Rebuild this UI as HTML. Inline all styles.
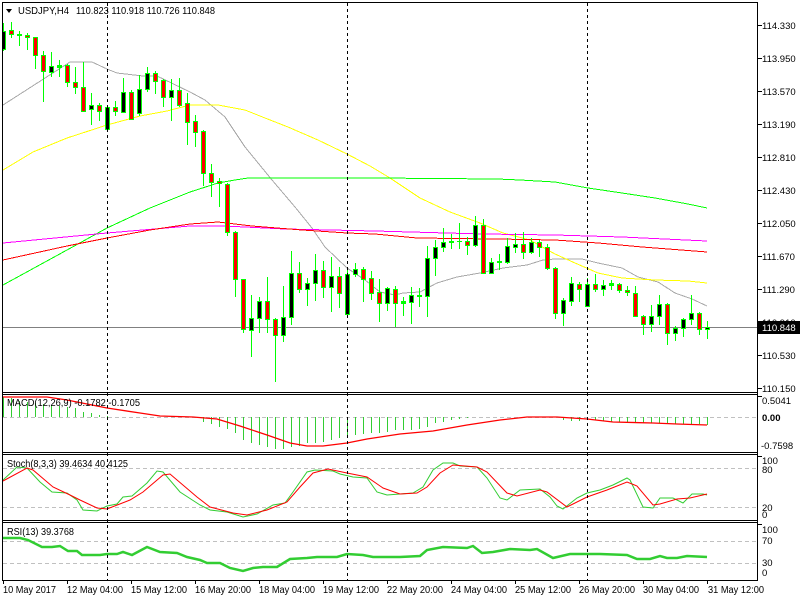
<!DOCTYPE html>
<html><head><meta charset="utf-8"><style>
html,body{margin:0;padding:0;background:#fff;}
svg{display:block;}
text{font-family:"Liberation Sans",sans-serif;fill:#000;}
</style></head><body>
<svg width="800" height="600" viewBox="0 0 800 600" xmlns="http://www.w3.org/2000/svg">
<rect width="800" height="600" fill="#fff"/>
<defs>
<clipPath id="cm"><rect x="3" y="3" width="754" height="389"/></clipPath>
<clipPath id="c1"><rect x="3" y="395" width="754" height="57"/></clipPath>
<clipPath id="c2"><rect x="3" y="455" width="754" height="65"/></clipPath>
<clipPath id="c3"><rect x="3" y="523" width="754" height="57"/></clipPath>
</defs>

<!-- level dashed lines -->
<g stroke="#c0c0c0" stroke-width="1" stroke-dasharray="4,3" shape-rendering="crispEdges">
<line x1="3" y1="417.5" x2="757" y2="417.5"/>
<line x1="3" y1="468.5" x2="757" y2="468.5"/>
<line x1="3" y1="507.5" x2="757" y2="507.5"/>
<line x1="3" y1="541.5" x2="757" y2="541.5"/>
<line x1="3" y1="563.5" x2="757" y2="563.5"/>
</g>

<!-- current price line -->
<rect x="3" y="327" width="754" height="1" fill="#808080"/>

<!-- main chart -->
<g clip-path="url(#cm)">
<g fill="none" stroke-width="1" shape-rendering="crispEdges">
<polyline stroke="#a9a9a9" points="3,105 70,62 92,62 107,69 117,73 143,76 157,76 190,92 205,100 225,117 245,147 272,180 295,207 312,228 325,247 347,268 365,280 375,288 380,292 395,295 403,293 420,292 437,283 457,277 480,273 503,268 527,265 543,260 555,259 582,259 598,263 622,268 638,277 658,282 675,293 692,299 707,306"/>
<polyline stroke="#ffff00" points="3,170 33,152 67,138 107,125 140,116 167,111 190,105 218,105 245,110 265,118 288,127 318,140 347,154 370,166 390,178 420,198 450,212 480,223 503,233 530,240 555,254 575,263 598,273 622,278 655,280 688,281 707,283"/>
<polyline stroke="#00ff00" points="3,285 67,250 107,228 150,208 190,192 218,183 235,180 248,178 375,178 497,179 520,180 555,182 588,188 622,193 655,198 688,204 707,208"/>
<polyline stroke="#ff00ff" points="3,243 107,233 190,226 225,226 285,229 375,231 483,234 555,235 622,237 707,241"/>
<polyline stroke="#ff0000" points="3,260 67,246 107,238 150,230 190,224 218,222 252,226 302,230 347,233 375,234 417,238 497,239 555,240 598,243 642,247 707,252"/>
</g>
<path fill="#00ff00" shape-rendering="crispEdges" d="M3 23h1v28h-1zM11 22h1v16h-1zM19 31h1v15h-1zM27 33h1v17h-1zM35 37h1v32h-1zM43 51h1v51h-1zM51 52h1v25h-1zM59 60h1v17h-1zM67 64h1v23h-1zM75 67h1v27h-1zM83 62h1v50h-1zM91 93h1v32h-1zM99 103h1v18h-1zM107 107h1v25h-1zM115 101h1v15h-1zM123 78h1v35h-1zM131 90h1v30h-1zM139 75h1v41h-1zM147 67h1v25h-1zM155 71h1v23h-1zM163 79h1v28h-1zM171 79h1v42h-1zM179 78h1v29h-1zM187 93h1v52h-1zM195 115h1v32h-1zM203 130h1v56h-1zM211 164h1v33h-1zM219 178h1v29h-1zM227 183h1v53h-1zM235 231h1v66h-1zM243 279h1v54h-1zM251 295h1v62h-1zM259 297h1v36h-1zM267 277h1v56h-1zM275 318h1v64h-1zM283 286h1v56h-1zM291 251h1v74h-1zM299 262h1v31h-1zM307 278h1v28h-1zM315 254h1v47h-1zM323 261h1v37h-1zM331 257h1v55h-1zM339 267h1v41h-1zM347 268h1v47h-1zM355 263h1v14h-1zM363 267h1v35h-1zM371 271h1v29h-1zM379 279h1v43h-1zM387 287h1v24h-1zM395 286h1v41h-1zM403 297h1v19h-1zM411 287h1v37h-1zM419 288h1v19h-1zM427 246h1v71h-1zM435 240h1v36h-1zM443 228h1v24h-1zM451 234h1v15h-1zM459 223h1v26h-1zM467 237h1v18h-1zM475 216h1v31h-1zM483 219h1v55h-1zM491 258h1v15h-1zM499 254h1v16h-1zM507 238h1v26h-1zM515 233h1v20h-1zM523 232h1v27h-1zM531 238h1v16h-1zM539 240h1v17h-1zM547 244h1v26h-1zM555 267h1v52h-1zM563 298h1v28h-1zM571 277h1v29h-1zM579 282h1v20h-1zM587 278h1v28h-1zM595 274h1v18h-1zM603 280h1v16h-1zM611 280h1v10h-1zM619 283h1v10h-1zM627 286h1v10h-1zM635 286h1v31h-1zM643 315h1v20h-1zM651 305h1v27h-1zM659 295h1v30h-1zM667 303h1v42h-1zM675 326h1v15h-1zM683 318h1v19h-1zM691 295h1v30h-1zM699 312h1v23h-1zM707 321h1v18h-1z"/>
<path fill="#00ff00" shape-rendering="crispEdges" d="M1 31h5v19h-5zM9 30h5v5h-5zM17 34h5v2h-5zM25 35h5v3h-5zM33 37h5v19h-5zM41 55h5v17h-5zM49 66h5v7h-5zM57 65h5v3h-5zM65 65h5v18h-5zM73 82h5v6h-5zM81 87h5v25h-5zM89 105h5v5h-5zM97 105h5v7h-5zM105 107h5v23h-5zM113 107h5v5h-5zM121 92h5v21h-5zM129 92h5v28h-5zM137 89h5v25h-5zM145 73h5v17h-5zM153 73h5v9h-5zM161 80h5v18h-5zM169 90h5v8h-5zM177 90h5v16h-5zM185 103h5v20h-5zM193 121h5v12h-5zM201 131h5v43h-5zM209 173h5v10h-5zM217 181h5v3h-5zM225 184h5v49h-5zM233 232h5v48h-5zM241 279h5v51h-5zM249 318h5v13h-5zM257 301h5v18h-5zM265 301h5v19h-5zM273 319h5v17h-5zM281 317h5v19h-5zM289 273h5v45h-5zM297 273h5v17h-5zM305 283h5v7h-5zM313 270h5v14h-5zM321 270h5v18h-5zM329 276h5v12h-5zM337 276h5v18h-5zM345 274h5v41h-5zM353 269h5v6h-5zM361 269h5v11h-5zM369 278h5v16h-5zM377 292h5v12h-5zM385 288h5v16h-5zM393 289h5v15h-5zM401 301h5v3h-5zM409 295h5v8h-5zM417 295h5v2h-5zM425 258h5v39h-5zM433 247h5v12h-5zM441 242h5v6h-5zM449 241h5v2h-5zM457 241h5v1h-5zM465 241h5v5h-5zM473 225h5v21h-5zM481 225h5v49h-5zM489 262h5v12h-5zM497 261h5v2h-5zM505 246h5v17h-5zM513 244h5v4h-5zM521 244h5v9h-5zM529 242h5v11h-5zM537 242h5v6h-5zM545 247h5v22h-5zM553 268h5v46h-5zM561 300h5v14h-5zM569 283h5v19h-5zM577 284h5v6h-5zM585 284h5v23h-5zM593 284h5v6h-5zM601 285h5v5h-5zM609 283h5v3h-5zM617 284h5v7h-5zM625 290h5v3h-5zM633 293h5v24h-5zM641 316h5v9h-5zM649 316h5v9h-5zM657 304h5v13h-5zM665 304h5v30h-5zM673 328h5v6h-5zM681 319h5v10h-5zM689 313h5v7h-5zM697 313h5v17h-5zM705 327h5v3h-5z"/>
<path fill="#ff0000" shape-rendering="crispEdges" d="M10 31h3v3h-3zM26 36h3v1h-3zM34 38h3v17h-3zM42 56h3v15h-3zM66 66h3v16h-3zM74 83h3v4h-3zM82 88h3v23h-3zM98 106h3v5h-3zM114 108h3v3h-3zM130 93h3v26h-3zM154 74h3v7h-3zM162 81h3v16h-3zM178 91h3v14h-3zM186 104h3v18h-3zM194 122h3v10h-3zM202 132h3v41h-3zM210 174h3v8h-3zM218 182h3v1h-3zM226 185h3v47h-3zM234 233h3v46h-3zM242 280h3v49h-3zM266 302h3v17h-3zM274 320h3v15h-3zM298 274h3v15h-3zM322 271h3v16h-3zM338 277h3v16h-3zM362 270h3v9h-3zM370 279h3v14h-3zM378 293h3v10h-3zM394 290h3v13h-3zM466 242h3v3h-3zM482 226h3v47h-3zM522 245h3v7h-3zM538 243h3v4h-3zM546 248h3v20h-3zM554 269h3v44h-3zM578 285h3v4h-3zM594 285h3v4h-3zM618 285h3v5h-3zM626 291h3v1h-3zM634 294h3v22h-3zM642 317h3v7h-3zM666 305h3v28h-3zM698 314h3v15h-3z"/>
<path fill="#000000" shape-rendering="crispEdges" d="M2 32h3v17h-3zM50 67h3v5h-3zM90 106h3v3h-3zM106 108h3v21h-3zM122 93h3v19h-3zM138 90h3v23h-3zM146 74h3v15h-3zM170 91h3v6h-3zM250 319h3v11h-3zM258 302h3v16h-3zM282 318h3v17h-3zM290 274h3v43h-3zM306 284h3v5h-3zM314 271h3v12h-3zM330 277h3v10h-3zM346 275h3v39h-3zM354 270h3v4h-3zM386 289h3v14h-3zM410 296h3v6h-3zM426 259h3v37h-3zM434 248h3v10h-3zM442 243h3v4h-3zM474 226h3v19h-3zM490 263h3v10h-3zM506 247h3v15h-3zM514 245h3v2h-3zM530 243h3v9h-3zM562 301h3v12h-3zM570 284h3v17h-3zM586 285h3v21h-3zM602 286h3v3h-3zM650 317h3v7h-3zM658 305h3v11h-3zM674 329h3v4h-3zM682 320h3v8h-3zM690 314h3v5h-3zM706 328h3v1h-3z"/>
</g>

<!-- MACD -->
<g clip-path="url(#c1)">
<path fill="#32cd32" shape-rendering="crispEdges" d="M3 397h1v20h-1zM11 398h1v19h-1zM19 401h1v16h-1zM27 402h1v15h-1zM35 403h1v14h-1zM43 404h1v13h-1zM51 405h1v12h-1zM59 406h1v11h-1zM67 407h1v10h-1zM75 408h1v9h-1zM83 412h1v5h-1zM91 413h1v4h-1zM99 415h1v2h-1zM107 416h1v1h-1zM203 417h1v5h-1zM211 417h1v7h-1zM219 417h1v10h-1zM227 417h1v12h-1zM235 417h1v16h-1zM243 417h1v23h-1zM251 417h1v26h-1zM259 417h1v28h-1zM267 417h1v30h-1zM275 417h1v32h-1zM283 417h1v32h-1zM291 417h1v30h-1zM299 417h1v29h-1zM307 417h1v26h-1zM315 417h1v26h-1zM323 417h1v25h-1zM331 417h1v23h-1zM339 417h1v21h-1zM347 417h1v20h-1zM355 417h1v18h-1zM363 417h1v17h-1zM371 417h1v16h-1zM379 417h1v16h-1zM387 417h1v15h-1zM395 417h1v13h-1zM403 417h1v13h-1zM411 417h1v13h-1zM419 417h1v12h-1zM427 417h1v10h-1zM435 417h1v6h-1zM443 417h1v5h-1zM451 417h1v3h-1zM459 417h1v2h-1zM467 417h1v1h-1zM563 417h1v3h-1zM571 417h1v4h-1zM579 417h1v4h-1zM587 417h1v2h-1zM595 417h1v3h-1zM603 417h1v4h-1zM611 417h1v5h-1zM619 417h1v5h-1zM627 417h1v6h-1zM635 417h1v6h-1zM643 417h1v6h-1zM651 417h1v6h-1zM659 417h1v6h-1zM667 417h1v6h-1zM675 417h1v7h-1zM683 417h1v7h-1zM691 417h1v7h-1zM699 417h1v7h-1zM707 417h1v8h-1z"/>
<polyline fill="none" stroke="#ff0000" stroke-width="1.3" points="3,397 47,397 67,400 107,408 140,413 160,416 193,417 217,419 240,426 267,435 290,443 307,446 323,446 347,443 367,439 400,434 433,431 467,425 500,420 527,417 557,417 587,419 613,422 653,423 677,424 707,425"/>
</g>

<!-- Stoch -->
<g clip-path="url(#c2)" fill="none" stroke-width="1">
<polyline stroke="#32cd32" points="3,480 17,467 27,468 40,482 52,492 67,493 77,500 83,510 97,511 107,506 117,504 123,497 132,496 147,483 157,471 163,472 180,492 200,505 210,510 227,512 243,517 257,514 273,505 285,503 293,492 307,472 315,470 333,471 340,474 353,477 367,478 377,492 387,495 400,494 413,493 423,487 433,470 443,463 453,463 460,466 477,467 487,478 500,498 507,500 520,490 540,489 550,497 557,506 563,509 577,498 587,493 600,490 613,485 627,478 630,480 643,507 653,508 660,498 673,498 683,503 692,494 703,494 707,495"/>
<polyline stroke="#ff0000" points="3,481 27,468 33,470 53,487 70,495 80,500 97,508 107,509 130,500 143,492 163,475 170,474 197,497 210,507 233,513 247,515 267,510 287,502 300,487 313,473 328,469 347,473 367,477 383,488 400,494 417,493 427,487 440,473 453,465 477,467 487,472 507,493 517,496 540,490 547,492 567,507 587,497 607,490 627,482 637,486 653,505 660,504 677,499 690,498 707,494"/>
</g>

<!-- RSI -->
<g clip-path="url(#c3)">
<polyline fill="none" stroke="#32cd32" stroke-width="2.5" points="3,538 20,538 28,540 42,547 52,547 60,546 68,551 77,551 82,555 100,555 107,554 117,554 123,552 132,555 147,547 160,552 177,553 187,557 200,560 207,563 220,563 230,568 243,571 253,568 263,567 277,567 290,559 307,558 317,557 337,557 347,554 363,555 373,557 400,557 420,556 427,550 443,547 467,548 473,546 482,553 493,552 510,549 530,550 537,549 553,558 570,554 600,554 627,555 637,559 650,559 660,556 667,558 677,558 687,556 707,557"/>
</g>

<!-- period separators -->
<g stroke="#000" stroke-width="1" stroke-dasharray="3,3" shape-rendering="crispEdges">
<line x1="107.5" y1="3" x2="107.5" y2="580"/>
<line x1="347.5" y1="3" x2="347.5" y2="580"/>
<line x1="587.5" y1="3" x2="587.5" y2="580"/>
</g>

<!-- panel borders -->
<g fill="#000" shape-rendering="crispEdges">
<rect x="2" y="2" width="756" height="1"/>
<rect x="2" y="392" width="756" height="1"/>
<rect x="2" y="394" width="756" height="1"/>
<rect x="2" y="452" width="756" height="1"/>
<rect x="2" y="454" width="756" height="1"/>
<rect x="2" y="520" width="756" height="1"/>
<rect x="2" y="522" width="756" height="1"/>
<rect x="2" y="580" width="756" height="1"/>
<rect x="2" y="2" width="1" height="579"/>
<rect x="757" y="2" width="1" height="579"/>
</g>

<!-- right axis ticks -->
<g fill="#000" shape-rendering="crispEdges">
<rect x="758" y="25" width="4" height="1"/>
<rect x="758" y="58" width="4" height="1"/>
<rect x="758" y="91" width="4" height="1"/>
<rect x="758" y="124" width="4" height="1"/>
<rect x="758" y="157" width="4" height="1"/>
<rect x="758" y="190" width="4" height="1"/>
<rect x="758" y="223" width="4" height="1"/>
<rect x="758" y="256" width="4" height="1"/>
<rect x="758" y="289" width="4" height="1"/>
<rect x="758" y="322" width="4" height="1"/>
<rect x="758" y="355" width="4" height="1"/>
<rect x="758" y="388" width="4" height="1"/>
<rect x="758" y="396" width="4" height="1"/>
<rect x="758" y="456" width="4" height="1"/>
<rect x="758" y="524" width="4" height="1"/>
</g>

<!-- right axis labels -->
<g font-size="9.5">
<text x="762" y="29">114.330</text>
<text x="762" y="62">113.950</text>
<text x="762" y="95">113.570</text>
<text x="762" y="128">113.190</text>
<text x="762" y="161">112.810</text>
<text x="762" y="194">112.430</text>
<text x="762" y="227">112.050</text>
<text x="762" y="260">111.670</text>
<text x="762" y="293">111.290</text>
<text x="762" y="326">110.910</text>
<text x="762" y="359">110.530</text>
<text x="762" y="392">110.150</text>
<text x="762" y="404">0.5041</text>
<text x="762" y="421" font-weight="bold">0.00</text>
<text x="761" y="449">-0.7598</text>
<text x="762" y="464">100</text>
<text x="762" y="473">80</text>
<text x="762" y="511">20</text>
<text x="762" y="518">0</text>
<text x="762" y="533">100</text>
<text x="762" y="544">70</text>
<text x="762" y="566">30</text>
<text x="762" y="576">0</text>
</g>
<rect x="758" y="321" width="42" height="13" fill="#000"/>
<text x="762" y="331" font-size="9.5" style="fill:#fff">110.848</text>

<!-- headers -->
<polygon points="6,9 12,9 9,13" fill="#000"/>
<text x="18" y="14" font-size="10" textLength="51" lengthAdjust="spacingAndGlyphs">USDJPY,H4</text>
<text x="76" y="14" font-size="10" textLength="139" lengthAdjust="spacingAndGlyphs">110.823 110.918 110.726 110.848</text>
<text x="7" y="406" font-size="10" textLength="133" lengthAdjust="spacingAndGlyphs">MACD(12,26,9) -0.1782 -0.1705</text>
<text x="7" y="467" font-size="10" textLength="121" lengthAdjust="spacingAndGlyphs">Stoch(8,3,3) 39.4634 40.4125</text>
<text x="7" y="535" font-size="10" textLength="67" lengthAdjust="spacingAndGlyphs">RSI(13) 39.3768</text>

<!-- time axis -->
<g fill="#000" shape-rendering="crispEdges">
<rect x="3" y="580" width="1" height="4"/>
<rect x="67" y="580" width="1" height="4"/>
<rect x="131" y="580" width="1" height="4"/>
<rect x="195" y="580" width="1" height="4"/>
<rect x="259" y="580" width="1" height="4"/>
<rect x="323" y="580" width="1" height="4"/>
<rect x="387" y="580" width="1" height="4"/>
<rect x="451" y="580" width="1" height="4"/>
<rect x="515" y="580" width="1" height="4"/>
<rect x="579" y="580" width="1" height="4"/>
<rect x="643" y="580" width="1" height="4"/>
<rect x="707" y="580" width="1" height="4"/>
</g>
<g font-size="10">
<text x="3" y="593" textLength="53" lengthAdjust="spacingAndGlyphs">10 May 2017</text>
<text x="67" y="593" textLength="56" lengthAdjust="spacingAndGlyphs">12 May 04:00</text>
<text x="131" y="593" textLength="56" lengthAdjust="spacingAndGlyphs">15 May 12:00</text>
<text x="195" y="593" textLength="56" lengthAdjust="spacingAndGlyphs">16 May 20:00</text>
<text x="259" y="593" textLength="56" lengthAdjust="spacingAndGlyphs">18 May 04:00</text>
<text x="323" y="593" textLength="56" lengthAdjust="spacingAndGlyphs">19 May 12:00</text>
<text x="387" y="593" textLength="56" lengthAdjust="spacingAndGlyphs">22 May 20:00</text>
<text x="451" y="593" textLength="56" lengthAdjust="spacingAndGlyphs">24 May 04:00</text>
<text x="515" y="593" textLength="56" lengthAdjust="spacingAndGlyphs">25 May 12:00</text>
<text x="579" y="593" textLength="56" lengthAdjust="spacingAndGlyphs">26 May 20:00</text>
<text x="643" y="593" textLength="56" lengthAdjust="spacingAndGlyphs">30 May 04:00</text>
<text x="708" y="593" textLength="56" lengthAdjust="spacingAndGlyphs">31 May 12:00</text>
</g>
</svg>
</body></html>
